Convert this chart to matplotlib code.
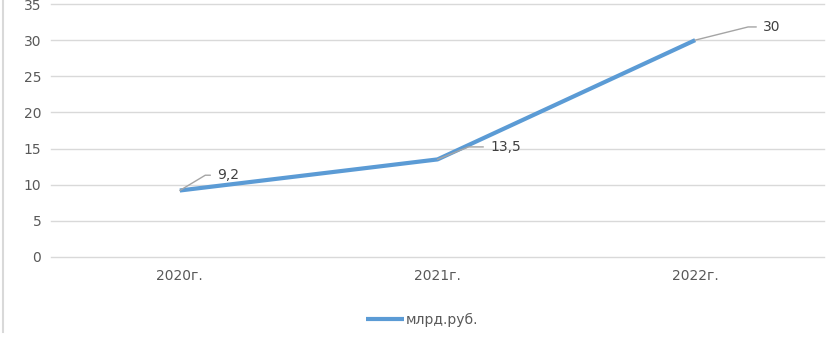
import matplotlib.pyplot as plt
from matplotlib.lines import Line2D

years = ['2020г.', '2021г.', '2022г.']
values = [9.2, 13.5, 30]
value_labels = ['9,2', '13,5', '30']
series_name = 'млрд.руб.'

# label offsets (points) and leader angles
offsets = [(27, 11), (38, 9), (49, 9.5)]
angles = [31, 22, 14]

plt.rcParams['font.family'] = ['DejaVu Sans']
fig = plt.figure(figsize=(8.37, 3.38), dpi=100)
ax = fig.add_axes([51 / 837, 1 - 257 / 338, 773 / 837, 253 / 338])

x = range(len(years))
ax.plot(x, values, color='#5B9BD5', lw=3, solid_capstyle='butt', label=series_name, zorder=3)

for i, (v, lab) in enumerate(zip(values, value_labels)):
    ax.annotate(lab, (i, v), xytext=offsets[i], textcoords='offset points',
                fontsize=10, color='#404040', va='center', ha='left',
                arrowprops=dict(arrowstyle='-', color='#A5A5A5', lw=1,
                                shrinkA=3, shrinkB=0, relpos=(0, 0.5),
                                connectionstyle='angle,angleA=0,angleB=%d,rad=0' % angles[i]),
                zorder=4)

ax.set_xlim(-0.5, 2.5)
ax.set_ylim(0, 35)
ax.set_yticks(range(0, 36, 5))
ax.set_xticks(list(x))
ax.set_xticklabels(years)
ax.grid(axis='y', color='#D9D9D9', lw=1)
for gl in ax.get_ygridlines():
    gl.set_clip_on(False)
ax.set_axisbelow(True)
for s in ax.spines.values():
    s.set_visible(False)
ax.tick_params(length=0, labelsize=10, labelcolor='#595959')
ax.tick_params(axis='y', pad=7)
ax.tick_params(axis='x', pad=9)

fig.legend(loc='center', bbox_to_anchor=(422 / 837, 1 - 320 / 338), frameon=False,
           fontsize=10, labelcolor='#595959', handlelength=2.8, handletextpad=0.1)

fig.add_artist(Line2D([3.5 / 837, 3.5 / 837], [1, 1 - 332 / 338], color='#D9D9D9', lw=1.5))

fig.savefig('out.png', dpi=100)
